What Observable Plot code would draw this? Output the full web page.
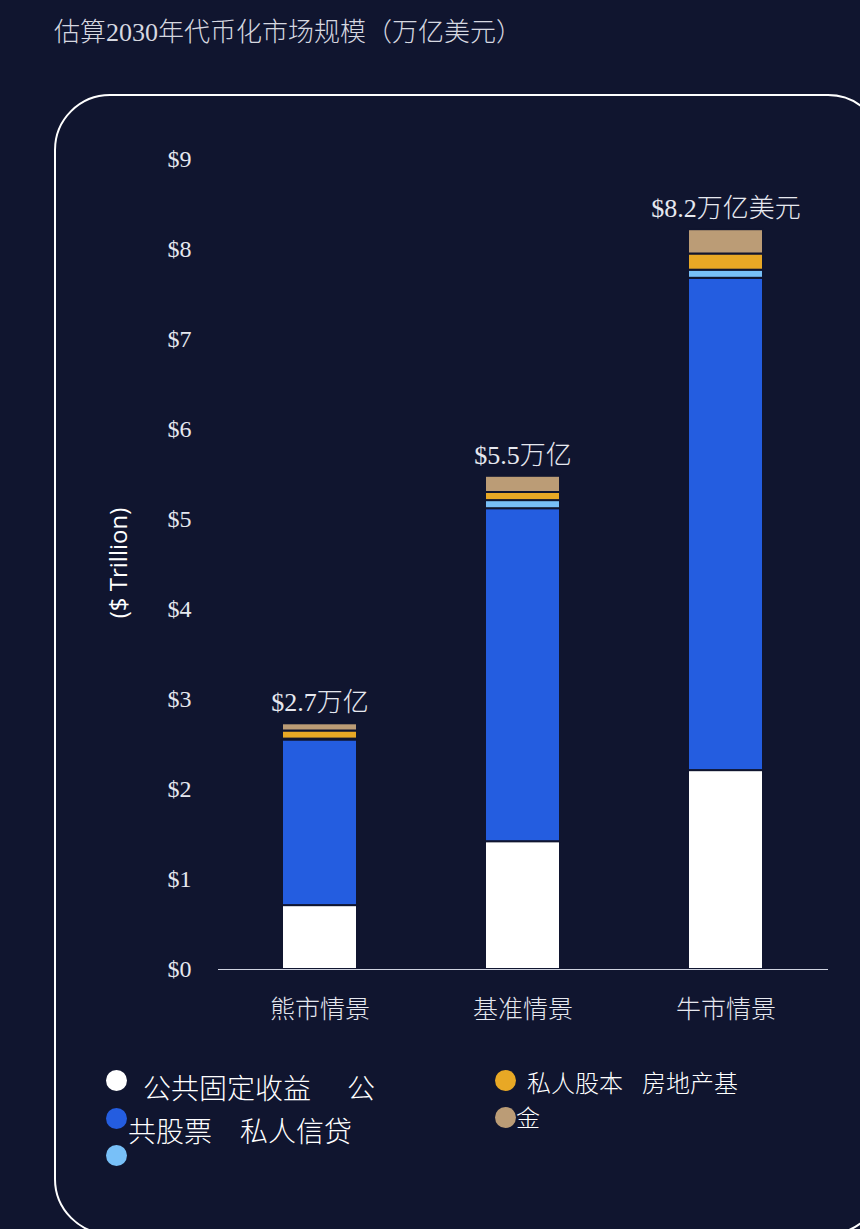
<!DOCTYPE html>
<html>
<head>
<meta charset="utf-8">
<script src="https://cdn.jsdelivr.net/npm/d3@7"></script>
<script src="https://cdn.jsdelivr.net/npm/@observablehq/plot@0.6"></script>
<style>
  html, body { margin: 0; padding: 0; background: #10152f; }
  #page { position: relative; width: 860px; height: 1229px; overflow: hidden; background: #10152f; }
  .abs { position: absolute; white-space: pre; }
  #title { left: 54px; top: 17px; font: 300 26px/32px "Liberation Serif", "Noto Sans CJK SC", serif; color: #d6d8e0; }
  #frame { position: absolute; left: 54px; top: 94px; width: 830px; height: 1141px; border: 2px solid #ffffff; border-radius: 56px; box-sizing: border-box; }
  #chart { position: absolute; left: 0; top: 130px; }
  #ylab { position: absolute; left: 117px; top: 563px; transform: translate(-50%, -50%) rotate(-90deg); font: 500 24px "Open Sans", sans-serif; color: #ffffff; white-space: nowrap; }
  .dot { position: absolute; border-radius: 50%; }
  .lgL { font: 300 28px/28px "Noto Sans CJK SC", sans-serif; color: #ffffff; }
  .lgR { font: 300 24px/24px "Noto Sans CJK SC", sans-serif; color: #ffffff; }
</style>
</head>
<body>
<div id="page">
  <div id="title" class="abs"></div>
  <div id="frame"></div>
  <div id="chart"></div>
  <div id="ylab"></div>
  <div id="legend"></div>
</div>
<script>
const title = "估算2030年代币化市场规模（万亿美元）";
const yLabel = "($ Trillion)";
const scenarios = ["熊市情景", "基准情景", "牛市情景"];
const categories = ["公共固定收益", "公共股票", "私人信贷", "私人股本", "房地产基金"];
const colors = ["#ffffff", "#245de0", "#78c0f8", "#e8a825", "#bb9c76"];
const publicFixedIncome = [0.71, 1.42, 2.21];
const publicEquity = [1.84, 3.70, 5.47];
const privateCredit = [0.01, 0.09, 0.09];
const privateEquity = [0.09, 0.09, 0.18];
const realEstateFunds = [0.08, 0.18, 0.27];
const totalLabels = ["$2.7万亿", "$5.5万亿", "$8.2万亿美元"];
const yTicks = [0, 1, 2, 3, 4, 5, 6, 7, 8, 9];

const series = [publicFixedIncome, publicEquity, privateCredit, privateEquity, realEstateFunds];
const rows = [];
scenarios.forEach((s, i) => {
  categories.forEach((c, j) => rows.push({scenario: s, category: c, value: series[j][i]}));
});
const totals = scenarios.map((s, i) => ({
  scenario: s,
  total: d3.sum(series, arr => arr[i]),
  label: totalLabels[i]
}));

document.getElementById("title").textContent = title;
document.getElementById("ylab").textContent = yLabel;

const bg = "#10152f";
const serifFont = "'Liberation Serif', 'Noto Sans CJK SC', serif";

const chart = Plot.plot({
  width: 860,
  height: 900,
  marginTop: 29,
  marginBottom: 61,
  marginLeft: 218,
  marginRight: 32,
  style: {background: "transparent", color: "#e6e8ef", fontFamily: serifFont},
  x: {type: "band", domain: scenarios, paddingInner: 0.63, paddingOuter: 0.315, axis: null},
  y: {domain: [0, 9], axis: null},
  color: {domain: categories, range: colors},
  marks: [
    Plot.barY(rows, {x: "scenario", y: "value", fill: "category", stroke: bg, strokeWidth: 2}),
    Plot.ruleY([0], {stroke: "#cfd3e0", strokeWidth: 1}),
    Plot.axisY({ticks: yTicks, tickFormat: d => "$" + d, tickSize: 0, tickPadding: 27, fontSize: 24, fontFamily: serifFont, label: null}),
    Plot.axisX({tickSize: 0, tickPadding: 31, fontSize: 25, fontFamily: "'Noto Sans CJK SC', sans-serif", fontWeight: 300, label: null}),
    Plot.text(totals, {x: "scenario", y: "total", text: "label", dy: -21, lineAnchor: "middle", fontSize: 26, fontWeight: 300, fontFamily: serifFont, fill: "#e6e8ef"})
  ]
});
document.getElementById("chart").appendChild(chart);

// legend (reproducing the wrapped layout of the reference)
const legend = document.getElementById("legend");
function dot(cx, cy, d, color) {
  const el = document.createElement("div");
  el.className = "dot";
  el.style.left = (cx - d / 2) + "px";
  el.style.top = (cy - d / 2) + "px";
  el.style.width = d + "px";
  el.style.height = d + "px";
  el.style.background = color;
  legend.appendChild(el);
}
function txt(x, cy, size, cls, s) {
  const el = document.createElement("div");
  el.className = "abs " + cls;
  el.style.left = x + "px";
  el.style.top = (cy - size / 2) + "px";
  el.textContent = s;
  legend.appendChild(el);
}
dot(116, 1080, 21, colors[0]);
dot(116, 1118, 21, colors[1]);
dot(116, 1155, 21, colors[2]);
dot(505, 1080, 21, colors[3]);
dot(505, 1117, 21, colors[4]);
txt(143, 1087, 28, "lgL", categories[0]);
txt(347, 1087, 28, "lgL", categories[1].slice(0, 1));
txt(128, 1130, 28, "lgL", categories[1].slice(1));
txt(240, 1130, 28, "lgL", categories[2]);
txt(527, 1082, 24, "lgR", categories[3]);
txt(642, 1082, 24, "lgR", categories[4].slice(0, 4));
txt(516, 1117, 24, "lgR", categories[4].slice(4));
</script>
</body>
</html>
